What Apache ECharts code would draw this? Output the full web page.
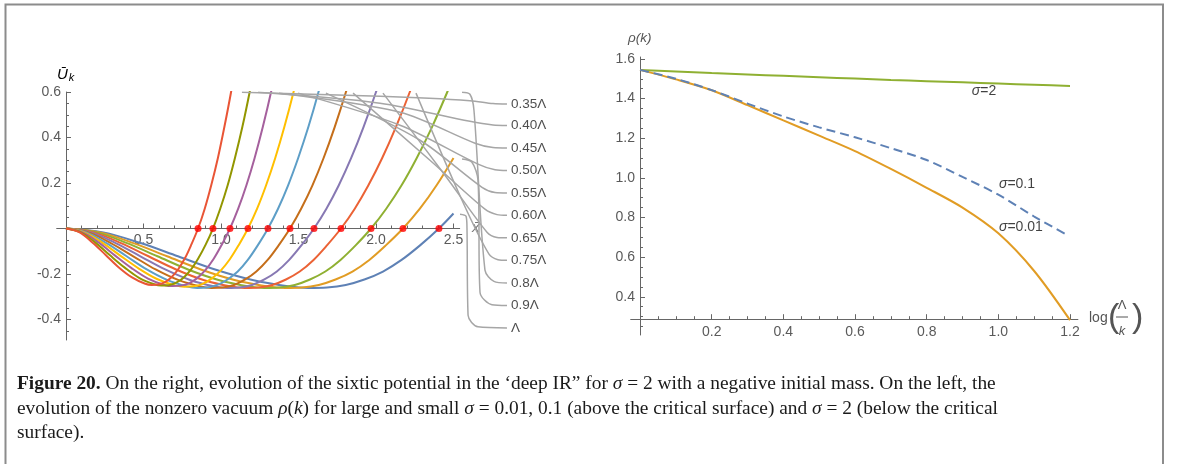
<!DOCTYPE html>
<html><head><meta charset="utf-8">
<script src="https://cdn.jsdelivr.net/npm/echarts@6/dist/echarts.min.js"></script>
<style>html,body{margin:0;padding:0;background:#fff}#c{width:1179px;height:464px}</style>
</head><body><div id="c"></div>
<script>
// ---------- LEFT PANEL DATA: U_k(x) for several k ----------
const curveNames = ['Λ','0.9Λ','0.8Λ','0.75Λ','0.65Λ','0.60Λ','0.55Λ','0.50Λ','0.45Λ','0.40Λ','0.35Λ'];
const curveColors = ['#5E81B5','#E19C24','#8FB032','#EB6235','#8778B3','#C56E1A','#5D9EC7','#FFBF00','#A5609D','#929600','#E95536'];
const U_L100 = [[0,0],[0.241,-0.017],[0.481,-0.064],[0.722,-0.122],[0.962,-0.180],[1.203,-0.226],[1.444,-0.255],[1.564,-0.261],[1.684,-0.259],[1.805,-0.248],[1.925,-0.224],[2.045,-0.189],[2.165,-0.138],[2.286,-0.073],[2.406,0],[2.5,0.066]];
const U_L090 = [[0,0],[0.217,-0.017],[0.435,-0.064],[0.652,-0.122],[0.870,-0.180],[1.087,-0.226],[1.304,-0.255],[1.413,-0.261],[1.522,-0.259],[1.631,-0.248],[1.739,-0.224],[1.848,-0.189],[1.957,-0.138],[2.065,-0.073],[2.174,0],[2.283,0.087],[2.391,0.19],[2.5,0.31]];
const U_L080 = [[0,0],[0.197,-0.017],[0.394,-0.064],[0.590,-0.122],[0.787,-0.180],[0.984,-0.226],[1.181,-0.255],[1.279,-0.261],[1.378,-0.259],[1.476,-0.248],[1.574,-0.224],[1.673,-0.189],[1.771,-0.138],[1.870,-0.073],[1.968,0],[2.066,0.087],[2.165,0.19],[2.263,0.31],[2.362,0.447],[2.460,0.6],[2.5,0.67]];
const U_L075 = [[0,0],[0.177,-0.017],[0.355,-0.064],[0.532,-0.122],[0.710,-0.180],[0.887,-0.226],[1.064,-0.255],[1.153,-0.261],[1.242,-0.259],[1.331,-0.248],[1.419,-0.224],[1.508,-0.189],[1.597,-0.138],[1.685,-0.073],[1.774,0],[1.863,0.087],[1.951,0.19],[2.040,0.31],[2.129,0.447],[2.218,0.6],[2.306,0.77]];
const U_L065 = [[0,0],[0.16,-0.017],[0.32,-0.064],[0.48,-0.122],[0.64,-0.180],[0.80,-0.226],[0.96,-0.255],[1.04,-0.261],[1.12,-0.259],[1.20,-0.248],[1.28,-0.224],[1.36,-0.189],[1.44,-0.138],[1.52,-0.073],[1.60,0],[1.68,0.087],[1.76,0.19],[1.84,0.31],[1.92,0.447],[2.00,0.6],[2.08,0.77]];
const U_L060 = [[0,0],[0.145,-0.017],[0.289,-0.064],[0.434,-0.122],[0.578,-0.180],[0.723,-0.226],[0.867,-0.255],[0.939,-0.261],[1.012,-0.259],[1.084,-0.248],[1.156,-0.224],[1.228,-0.189],[1.301,-0.138],[1.373,-0.073],[1.445,0],[1.517,0.087],[1.590,0.19],[1.662,0.31],[1.734,0.447],[1.806,0.6],[1.879,0.77]];
const U_L055 = [[0,0],[0.130,-0.017],[0.261,-0.064],[0.391,-0.122],[0.521,-0.180],[0.652,-0.226],[0.782,-0.255],[0.847,-0.261],[0.912,-0.259],[0.977,-0.248],[1.042,-0.224],[1.108,-0.189],[1.173,-0.138],[1.238,-0.073],[1.303,0],[1.368,0.087],[1.433,0.19],[1.498,0.31],[1.564,0.447],[1.629,0.6],[1.694,0.77]];
const U_L050 = [[0,0],[0.117,-0.017],[0.235,-0.063],[0.352,-0.120],[0.470,-0.176],[0.587,-0.222],[0.704,-0.250],[0.763,-0.256],[0.822,-0.254],[0.881,-0.243],[0.939,-0.220],[0.998,-0.185],[1.057,-0.135],[1.115,-0.072],[1.174,0],[1.233,0.087],[1.291,0.19],[1.350,0.31],[1.409,0.447],[1.468,0.6],[1.526,0.77]];
const U_L045 = [[0,0],[0.106,-0.017],[0.212,-0.062],[0.317,-0.119],[0.423,-0.174],[0.529,-0.220],[0.635,-0.248],[0.688,-0.253],[0.741,-0.251],[0.794,-0.241],[0.846,-0.218],[0.899,-0.183],[0.952,-0.134],[1.005,-0.071],[1.058,0],[1.111,0.087],[1.164,0.19],[1.217,0.31],[1.270,0.447],[1.323,0.6],[1.375,0.77]];
const U_L040 = [[0,0],[0.095,-0.017],[0.190,-0.062],[0.284,-0.118],[0.379,-0.172],[0.474,-0.218],[0.569,-0.245],[0.616,-0.251],[0.664,-0.249],[0.711,-0.238],[0.758,-0.216],[0.806,-0.181],[0.853,-0.132],[0.901,-0.071],[0.948,0],[0.995,0.087],[1.043,0.19],[1.090,0.31],[1.138,0.447],[1.185,0.6],[1.232,0.77]];
const U_L035 = [[0,0],[0.085,-0.016],[0.170,-0.061],[0.256,-0.116],[0.341,-0.171],[0.426,-0.215],[0.511,-0.243],[0.554,-0.248],[0.596,-0.246],[0.639,-0.236],[0.682,-0.213],[0.724,-0.179],[0.767,-0.131],[0.809,-0.070],[0.852,0],[0.895,0.087],[0.937,0.19],[0.980,0.31],[1.022,0.447],[1.065,0.6],[1.108,0.77]];
const curves = [U_L100,U_L090,U_L080,U_L075,U_L065,U_L060,U_L055,U_L050,U_L045,U_L040,U_L035];
// nonzero vacuum positions (zeros of U_k), marked with red dots
const zeroCrossings = [0.852,0.948,1.058,1.174,1.303,1.445,1.600,1.774,1.968,2.174,2.406];
// tick values
const leftXTicks = [0.5,1.0,1.5,2.0,2.5];
const leftXMinor = [0.1,0.2,0.3,0.4,0.6,0.7,0.8,0.9,1.1,1.2,1.3,1.4,1.6,1.7,1.8,1.9,2.1,2.2,2.3,2.4];
const leftYTicks = [-0.4,-0.2,0.2,0.4,0.6];
const leftYMinor = [-0.45,-0.35,-0.3,-0.25,-0.15,-0.1,-0.05,0.05,0.1,0.15,0.25,0.3,0.35,0.45,0.5,0.55];
// callout leaders (0.35Λ ... Λ), in the left panel's data coordinates
const leaderNames = ['0.35Λ','0.40Λ','0.45Λ','0.50Λ','0.55Λ','0.60Λ','0.65Λ','0.75Λ','0.8Λ','0.9Λ','Λ'];
const leaders = [
 [[1.135,0.599],[2.026,0.581],[2.606,0.562],[2.755,0.549],[2.845,0.547]],
 [[1.239,0.599],[2.026,0.551],[2.606,0.471],[2.755,0.455],[2.845,0.453]],
 [[1.374,0.595],[2.155,0.511],[2.639,0.375],[2.755,0.356],[2.845,0.354]],
 [[1.497,0.595],[2.155,0.454],[2.658,0.283],[2.768,0.258],[2.845,0.255]],
 [[1.677,0.595],[2.284,0.388],[2.684,0.181],[2.768,0.158],[2.845,0.156]],
 [[1.852,0.595],[2.348,0.300],[2.703,0.085],[2.781,0.061],[2.845,0.058]],
 [[2.045,0.595],[2.445,0.234],[2.716,-0.016],[2.781,-0.039],[2.845,-0.041]],
 [[2.258,0.595],[2.555,0.124],[2.729,-0.113],[2.787,-0.137],[2.845,-0.140]],
 [[2.555,0.599],[2.606,0.590],[2.632,0.520],[2.703,-0.183],[2.761,-0.232],[2.845,-0.239]],
 [[2.555,0.305],[2.619,0.291],[2.658,0.212],[2.671,-0.280],[2.748,-0.335],[2.845,-0.338]],
 [[2.542,0.063],[2.581,0.054],[2.587,0.001],[2.594,-0.381],[2.658,-0.432],[2.845,-0.437]]
];

// ---------- RIGHT PANEL DATA: rho(k) vs log(Λ/k) ----------
const logLk = [0,0.1,0.2,0.3,0.4,0.5,0.6,0.7,0.8,0.9,1.0,1.1,1.2];
const rhoSigma2 = [1.545,1.537,1.529,1.522,1.515,1.508,1.501,1.494,1.488,1.482,1.476,1.470,1.464];
const rhoSigma001 = [1.545,1.497,1.442,1.367,1.290,1.213,1.135,1.045,0.950,0.850,0.720,0.530,0.282];
const logLkSigma01 = [0,0.1,0.2,0.3,0.4,0.5,0.6,0.7,0.8,0.9,1.0,1.1,1.19];
const rhoSigma01 = [1.545,1.500,1.443,1.375,1.310,1.255,1.205,1.150,1.090,1.005,0.915,0.805,0.714];
const rightXTicks = [0.2,0.4,0.6,0.8,1.0,1.2];
const rightXMinor = [0.05,0.1,0.15,0.25,0.3,0.35,0.45,0.5,0.55,0.65,0.7,0.75,0.85,0.9,0.95,1.05,1.1,1.15];
const rightYTicks = [0.4,0.6,0.8,1.0,1.2,1.4,1.6];
const rightYMinor = [0.25,0.3,0.35,0.45,0.5,0.55,0.65,0.7,0.75,0.85,0.9,0.95,1.05,1.1,1.15,1.25,1.3,1.35,1.45,1.5,1.55];
const sigmaLabels = [['σ','=2',0.96,1.437],['σ','=0.1',1.052,0.970],['σ','=0.01',1.063,0.751]];

// ---------- CHART ----------
const AX = '#666666', LAB = '#5a5a5a', SANS = '"Liberation Sans", Arial, sans-serif', SERIF = '"Liberation Serif", "Times New Roman", serif';
const fmt = v => (v < 0 ? '-' : '') + Math.abs(v).toFixed(1);
function axis(o) {
  const a = {
    type: 'value', gridIndex: o.grid, min: o.min, max: o.max, position: o.pos,
    offset: o.offset || 0,
    axisLine: {show: o.line !== false, onZero: false, lineStyle: {color: AX, width: 1}},
    axisTick: {show: !!o.ticks, inside: true, length: o.len || 5, customValues: o.ticks, lineStyle: {color: AX, width: 1}},
    axisLabel: {show: !!o.labels, customValues: o.labels, formatter: fmt, color: LAB, fontSize: 14, fontFamily: SANS, margin: o.margin || 5},
    splitLine: {show: false}
  };
  if (o.hide) { a.show = false; }
  return a;
}
const L = {left: 56.7, top: 92, width: 403, height: 248};
const R = {left: 630.7, top: 57, width: 447.2, height: 278};
const grids = [
  Object.assign({}, L), Object.assign({}, L),
  {left: 56.7, top: 92, width: 474.3, height: 248},
  Object.assign({}, R), Object.assign({}, R)
].map(g => Object.assign(g, {outerBoundsMode: 'none', containLabel: false}));

// axis offsets that put each axis line through the other axis' crossing value
const LXOFF = -111.5; // left panel: x axis at U=0
const LYOFF = -9.3;   // left panel: y axis at x=0
const RXOFF = -15.8;  // right panel: x axis at rho=0.277
const RYOFF = -9.3;   // right panel: y axis at log=0
const xAxes = [
  axis({grid: 0, min: -0.06, max: 2.54, pos: 'bottom', offset: LXOFF, ticks: leftXTicks, labels: leftXTicks, margin: 5}),
  axis({grid: 1, min: -0.06, max: 2.54, pos: 'bottom', offset: LXOFF, ticks: leftXMinor, len: 3, line: false}),
  axis({grid: 2, min: -0.06, max: 3.0, pos: 'bottom', hide: true}),
  axis({grid: 3, min: -0.026, max: 1.222, pos: 'bottom', offset: RXOFF, ticks: rightXTicks, labels: rightXTicks, margin: 6}),
  axis({grid: 4, min: -0.026, max: 1.222, pos: 'bottom', offset: RXOFF, ticks: rightXMinor, len: 3, line: false})
];
const yAxes = [
  axis({grid: 0, min: -0.49, max: 0.6, pos: 'left', offset: LYOFF, ticks: leftYTicks, labels: leftYTicks, margin: 5}),
  axis({grid: 1, min: -0.49, max: 0.6, pos: 'left', offset: LYOFF, ticks: leftYMinor, len: 3, line: false}),
  axis({grid: 2, min: -0.49, max: 0.6, pos: 'left', hide: true}),
  axis({grid: 3, min: 0.207, max: 1.61, pos: 'left', offset: RYOFF, ticks: rightYTicks, labels: rightYTicks, margin: 5}),
  axis({grid: 4, min: 0.207, max: 1.61, pos: 'left', offset: RYOFF, ticks: rightYMinor, len: 3, line: false})
];

const series = [];
curves.forEach((c, i) => series.push({
  type: 'line', xAxisIndex: 0, yAxisIndex: 0, data: c, smooth: 0.35, showSymbol: false, symbol: 'none',
  lineStyle: {color: curveColors[i], width: 2}, z: 3 + i * 0.01, clip: true, animation: false
}));
leaders.forEach((c, i) => series.push({
  type: 'line', xAxisIndex: 2, yAxisIndex: 2, data: c, smooth: 0.3, symbol: 'none',
  lineStyle: {color: '#a6a6a6', width: 1.5}, z: 4, animation: false
}));
series.push({
  type: 'scatter', xAxisIndex: 2, yAxisIndex: 2, symbolSize: 0, animation: false, z: 5,
  data: leaders.map(c => c[c.length - 1]),
  label: {show: true, position: 'right', distance: 4, formatter: p => leaderNames[p.dataIndex], color: '#222', fontSize: 13.5, fontFamily: SANS}
});
series.push({
  type: 'scatter', xAxisIndex: 0, yAxisIndex: 0, symbolSize: 7, animation: false, z: 6,
  itemStyle: {color: '#ff0000'}, data: zeroCrossings.map(z => [z, 0])
});
series.push({type: 'line', xAxisIndex: 3, yAxisIndex: 3, data: logLk.map((x, i) => [x, rhoSigma2[i]]), symbol: 'none', smooth: 0.2, lineStyle: {color: '#8FB032', width: 2}, animation: false});
series.push({type: 'line', xAxisIndex: 3, yAxisIndex: 3, data: logLk.map((x, i) => [x, rhoSigma001[i]]), symbol: 'none', smooth: 0.3, lineStyle: {color: '#E19C24', width: 2}, animation: false});
series.push({type: 'line', xAxisIndex: 3, yAxisIndex: 3, data: logLkSigma01.map((x, i) => [x, rhoSigma01[i]]), symbol: 'none', smooth: 0.3, lineStyle: {color: '#5E81B5', width: 2, type: [9, 5]}, animation: false});
series.push({
  type: 'scatter', xAxisIndex: 3, yAxisIndex: 3, symbolSize: 0, animation: false,
  data: sigmaLabels.map(s => [s[2], s[3]]),
  label: {show: true, position: 'inside', color: '#111', fontSize: 14, fontFamily: SANS,
    formatter: p => '{i|' + sigmaLabels[p.dataIndex][0] + '}' + sigmaLabels[p.dataIndex][1],
    rich: {i: {fontStyle: 'italic', fontSize: 14, fontFamily: SANS, color: '#111'}}}
});

const CAPF = 19.4;
const capStyle = {fontSize: CAPF, fontFamily: SERIF, fill: '#1a1a1a', verticalAlign: 'middle'};
const capRich = {
  b: {fontWeight: 'bold', fontSize: CAPF, fontFamily: SERIF, color: '#1a1a1a'},
  i: {fontStyle: 'italic', fontSize: CAPF, fontFamily: SERIF, color: '#1a1a1a'}
};
const graphic = [
  {type: 'rect', shape: {x: 5.5, y: 4.5, width: 1157.5, height: 520}, style: {fill: 'none', stroke: '#8c8c8c', lineWidth: 2}, silent: true},
  {type: 'text', x: 57, y: 75, style: {text: '{u|Ū}{k|k}', rich: {u: {fontStyle: 'italic', fontSize: 15, fontFamily: SANS, color: '#555'}, k: {fontStyle: 'italic', fontSize: 11, fontFamily: SANS, color: '#555', padding: [6, 0, 0, 1]}}, verticalAlign: 'middle'}},
  {type: 'text', x: 472, y: 228, style: {text: 'x̄', fontStyle: 'italic', fontSize: 15, fontFamily: SANS, fill: '#777', verticalAlign: 'middle'}},
  {type: 'text', x: 628, y: 38, style: {text: 'ρ(k)', fontStyle: 'italic', fontSize: 13.5, fontFamily: SANS, fill: '#555', verticalAlign: 'middle'}},
  {type: 'text', x: 1089, y: 318, style: {text: 'log', fontSize: 14, fontFamily: SANS, fill: '#555', verticalAlign: 'middle'}},
  {type: 'text', x: 1108, y: 318, style: {text: '(', fontSize: 34, fontFamily: SANS, fill: '#555', verticalAlign: 'middle'}},
  {type: 'text', x: 1132, y: 318, style: {text: ')', fontSize: 34, fontFamily: SANS, fill: '#555', verticalAlign: 'middle'}},
  {type: 'text', x: 1122, y: 305, style: {text: 'Λ', fontSize: 13, fontFamily: SANS, fill: '#555', align: 'center', verticalAlign: 'middle'}},
  {type: 'line', shape: {x1: 1116, y1: 317, x2: 1128, y2: 317}, style: {stroke: '#555', lineWidth: 1}},
  {type: 'text', x: 1122, y: 331, style: {text: 'k', fontStyle: 'italic', fontSize: 13, fontFamily: SANS, fill: '#555', align: 'center', verticalAlign: 'middle'}},
  {type: 'text', x: 17, y: 384, style: Object.assign({text: '{b|Figure 20.} On the right, evolution of the sixtic potential in the ‘deep IR” for {i|σ} = 2 with a negative initial mass. On the left, the', rich: capRich}, capStyle)},
  {type: 'text', x: 17, y: 409, style: Object.assign({text: 'evolution of the nonzero vacuum {i|ρ}({i|k}) for large and small {i|σ} = 0.01, 0.1 (above the critical surface) and {i|σ} = 2 (below the critical', rich: capRich}, capStyle)},
  {type: 'text', x: 17, y: 433, style: Object.assign({text: 'surface).', rich: capRich}, capStyle)}
];

const chart = echarts.init(document.getElementById('c'), null, {renderer: 'canvas'});
chart.setOption({
  animation: false, backgroundColor: '#ffffff',
  grid: grids, xAxis: xAxes, yAxis: yAxes, series: series, graphic: graphic
});
</script></body></html>
